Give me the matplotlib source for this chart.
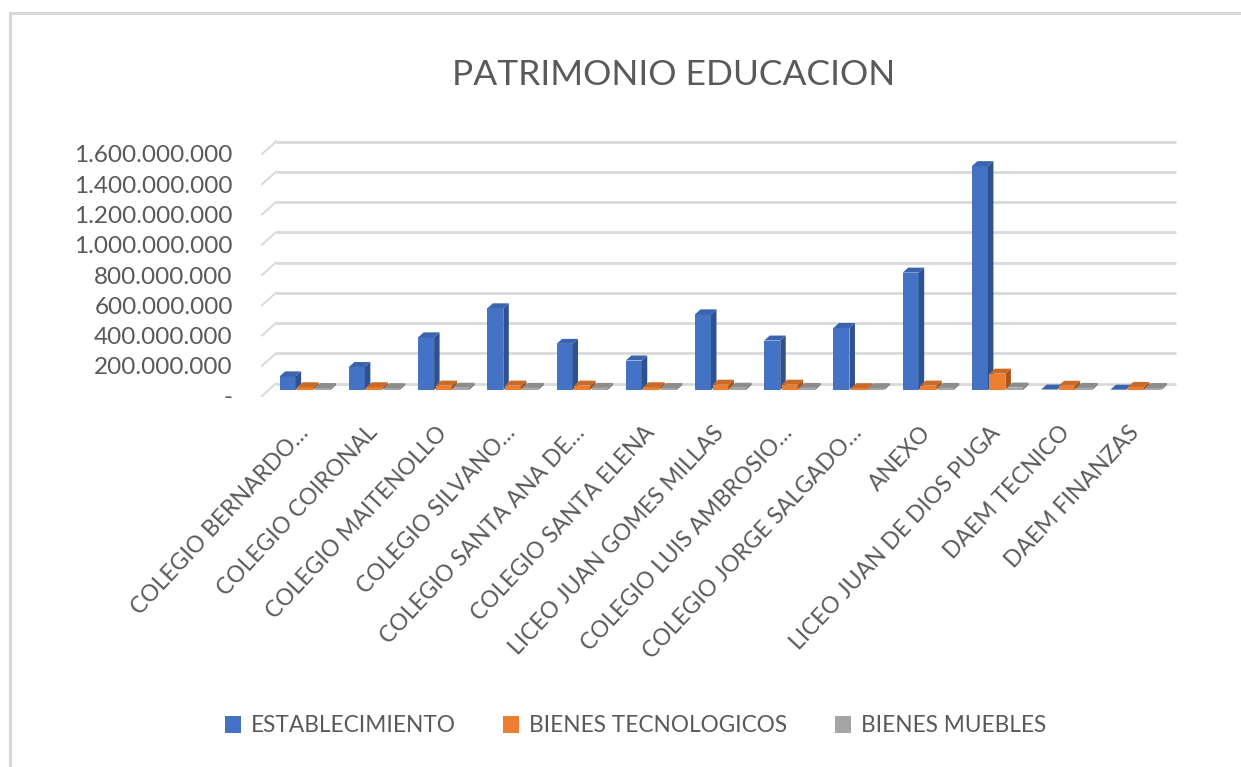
import matplotlib
matplotlib.use("Agg")
import matplotlib.pyplot as plt
from matplotlib.patches import Polygon, Rectangle
from matplotlib.transforms import ScaledTranslation
from matplotlib.ticker import FuncFormatter

# ---- data -------------------------------------------------------------
categories = [
    "COLEGIO BERNARDO…", "COLEGIO COIRONAL", "COLEGIO MAITENOLLO",
    "COLEGIO SILVANO…", "COLEGIO SANTA ANA DE…", "COLEGIO SANTA ELENA",
    "LICEO JUAN GOMES MILLAS", "COLEGIO LUIS AMBROSIO…",
    "COLEGIO JORGE SALGADO…", "ANEXO", "LICEO JUAN DE DIOS PUGA",
    "DAEM TECNICO", "DAEM FINANZAS",
]
series_names = ["ESTABLECIMIENTO", "BIENES TECNOLOGICOS", "BIENES MUEBLES"]
establecimiento = [90e6, 152e6, 348e6, 540e6, 305e6, 195e6, 500e6,
                   327e6, 410e6, 776e6, 1480e6, 3e6, 2e6]
bienes_tecnologicos = [18e6, 18e6, 29e6, 29e6, 29e6, 18e6, 35e6,
                       35e6, 12e6, 29e6, 108e6, 28e6, 20e6]
bienes_muebles = [13e6, 12e6, 15e6, 14e6, 14e6, 13e6, 15e6,
                  14e6, 12e6, 14e6, 16e6, 14e6, 13e6]
y_ticks = [0, 200e6, 400e6, 600e6, 800e6, 1000e6, 1200e6, 1400e6, 1600e6]

# ---- style ------------------------------------------------------------
FACE = ["#4472C4", "#ED7D31", "#A5A5A5"]
SIDE = ["#2F528F", "#A9561E", "#787878"]
TOP = ["#3A64AE", "#C96A26", "#8C8C8C"]
TEXT = "#595959"
GRID = "#D9D9D9"

W, H, DPI = 1241, 767, 100
plt.rcParams["font.family"] = ["Lato", "DejaVu Sans"]

fig = plt.figure(figsize=(W / DPI, H / DPI), dpi=DPI)
fig.patch.set_facecolor("white")

# chart frame (only its top-left corner falls inside the canvas)
fig.patches.append(Rectangle((10 / W, -0.2), 2.0, 1.2 - 12.5 / H,
                             transform=fig.transFigure, fill=False,
                             edgecolor=GRID, lw=2.2))

ax = fig.add_axes([262 / W, 1 - 396 / H, 900 / W, 242 / H])
n = len(categories)
ax.set_xlim(-0.5, n - 0.5)
ax.set_ylim(0, 1600e6)
for s in ax.spines.values():
    s.set_visible(False)
ax.patch.set_visible(False)


def px(dx, dy):
    """Convert a screen offset in pixels to data units."""
    inv = ax.transData.inverted()
    (x0, y0), (x1, y1) = inv.transform([(0, 0), (dx, dy)])
    return x1 - x0, y1 - y0


# depth geometry of the pseudo-3D view
bx, by = px(14, 12.5)      # back wall offset
fx, fy = px(8.5, 6)        # front face of the columns
dx, dy = px(5.5, 5)        # column depth
step, _ = px(17.5, 0)      # spacing between series within a group
bw, _ = px(16, 0)          # column width

# back-wall gridlines and the short diagonals on the side wall
for t in y_ticks:
    ax.plot([-0.5 + bx, n - 0.5 + bx], [t + by, t + by], color=GRID,
            lw=2.0, solid_capstyle="butt", clip_on=False, zorder=0)
    ax.plot([-0.5, -0.5 + bx], [t, t + by], color=GRID, lw=1.4,
            clip_on=False, zorder=0)

# columns with side and top faces
series = [establecimiento, bienes_tecnologicos, bienes_muebles]
for i in range(n):
    for k, vals in enumerate(series):
        v = vals[i]
        xl = i + (k - 1) * step + fx - bw / 2
        xr = xl + bw
        y0 = fy
        y1 = fy + v
        ax.add_patch(Rectangle((xl, y0), bw, v, facecolor=FACE[k], lw=0,
                               clip_on=False, zorder=2))
        ax.add_patch(Polygon([(xr, y0), (xr + dx, y0 + dy),
                              (xr + dx, y1 + dy), (xr, y1)],
                             closed=True, facecolor=SIDE[k], lw=0,
                             clip_on=False, zorder=2))
        ax.add_patch(Polygon([(xl, y1), (xr, y1), (xr + dx, y1 + dy),
                              (xl + dx, y1 + dy)],
                             closed=True, facecolor=TOP[k], lw=0,
                             clip_on=False, zorder=2))

# value axis
ax.set_yticks(y_ticks)
ax.yaxis.set_major_formatter(FuncFormatter(
    lambda v, p: "-" if v == 0 else f"{v:,.0f}".replace(",", ".")))
ax.tick_params(axis="y", length=0, pad=21, labelsize=17.5, labelcolor=TEXT)

# category axis
ax.set_xticks(range(n))
ax.set_xticklabels(categories, rotation=47, ha="right", va="center",
                   rotation_mode="anchor", fontsize=16.5, color=TEXT)
ax.tick_params(axis="x", length=0, pad=24)
for lab in ax.get_xticklabels():
    lab.set_transform(lab.get_transform()
                      + ScaledTranslation(8 / DPI, 0, fig.dpi_scale_trans))

# title
fig.text(674 / W, 1 - 75 / H, "PATRIMONIO EDUCACION", ha="center",
         va="center", fontsize=25.5, color=TEXT)

# legend
handles = [Rectangle((0, 0), 1, 1, facecolor=c, lw=0) for c in FACE]
fig.legend(handles, series_names, loc="center",
           bbox_to_anchor=(635.5 / W, 1 - 726 / H), ncol=3, frameon=False,
           fontsize=16.3, handlelength=0.7, handleheight=0.8,
           handletextpad=0.45, columnspacing=2.1, labelcolor=TEXT)

fig.savefig("out.png", dpi=DPI)
